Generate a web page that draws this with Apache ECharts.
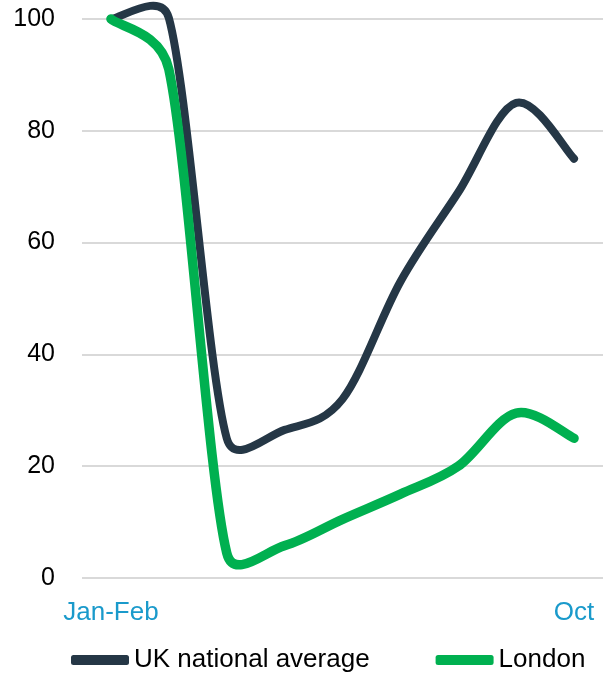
<!DOCTYPE html>
<html><head><meta charset="utf-8">
<script src="https://cdn.jsdelivr.net/npm/echarts@6/dist/echarts.min.js"></script>
<style>html,body{margin:0;padding:0;background:#fff}#c{width:603px;height:673px}</style>
</head><body><div id="c"></div>
<script>
const categories = ['Jan-Feb','Mar','Apr','May','Jun','Jul','Aug','Sep','Oct'];
const ukNational = [100, 100.2, 25, 26.5, 32, 53, 69, 85, 75];
const london = [100, 91, 4.5, 5.8, 10.5, 15, 20, 29.5, 25];
const yTicks = [0, 20, 40, 60, 80, 100];

const UK_COLOR = '#253746';
const LDN_COLOR = '#00b050';

// Excel-like smoothed line: Catmull-Rom bezier (tension 1/6), handle length limited to half segment
function smoothPath(pts) {
  const n = pts.length;
  const f = 1 / 6;
  let d = 'M' + pts[0][0] + ' ' + pts[0][1];
  const dist = (a, b) => Math.hypot(b[0] - a[0], b[1] - a[1]);
  for (let i = 0; i < n - 1; i++) {
    const p0 = pts[Math.max(0, i - 1)], p1 = pts[i], p2 = pts[i + 1], p3 = pts[Math.min(n - 1, i + 2)];
    const seg = dist(p1, p2);
    let v1 = [(p2[0] - p0[0]) * f, (p2[1] - p0[1]) * f];
    let l1 = Math.hypot(v1[0], v1[1]);
    if (l1 > seg / 2 && l1 > 0) { v1 = [v1[0] * seg / 2 / l1, v1[1] * seg / 2 / l1]; }
    let v2 = [(p3[0] - p1[0]) * f, (p3[1] - p1[1]) * f];
    let l2 = Math.hypot(v2[0], v2[1]);
    if (l2 > seg / 2 && l2 > 0) { v2 = [v2[0] * seg / 2 / l2, v2[1] * seg / 2 / l2]; }
    const c1 = [p1[0] + v1[0], p1[1] + v1[1]];
    const c2 = [p2[0] - v2[0], p2[1] - v2[1]];
    d += ' C' + c1[0] + ' ' + c1[1] + ' ' + c2[0] + ' ' + c2[1] + ' ' + p2[0] + ' ' + p2[1];
  }
  return d;
}

function makeSeries(name, values, color, width) {
  return {
    name: name, type: 'custom', clip: false,
    itemStyle: {color: color},
    encode: {x: 0, y: 1},
    data: values.map((v, i) => [i, v]),
    renderItem: function (params, api) {
      if (params.dataIndex !== 0) return null;
      const pts = values.map((v, i) => api.coord([i, v]));
      return {
        type: 'path',
        shape: {pathData: smoothPath(pts)},
        style: {fill: 'none', stroke: color, lineWidth: width, lineCap: 'round', lineJoin: 'round'}
      };
    }
  };
}

const FONT = 'Liberation Sans, Arial, sans-serif';
const chart = echarts.init(document.getElementById('c'));
chart.setOption({
  animation: false,
  grid: {left: 82, right: 0, top: 19, bottom: 95, containLabel: false},
  legend: {
    left: 71, top: 647, itemWidth: 58, itemHeight: 10, itemGap: 66,
    icon: 'roundRect', padding: 0,
    textStyle: {fontFamily: FONT, fontSize: 26, color: '#000'},
    data: ['UK national average', 'London']
  },
  xAxis: {
    type: 'category', data: categories, boundaryGap: true,
    axisLine: {show: false}, axisTick: {show: false},
    axisLabel: {
      interval: (i) => i === 0 || i === categories.length - 1,
      color: '#1a9acb', fontFamily: FONT, fontSize: 26, margin: 22
    }
  },
  yAxis: {
    type: 'value', min: yTicks[0], max: yTicks[yTicks.length - 1], interval: 20,
    axisLine: {show: false}, axisTick: {show: false},
    axisLabel: {color: '#000', fontFamily: FONT, fontSize: 25, margin: 27},
    splitLine: {lineStyle: {color: '#d9d9d9', width: 2}}
  },
  series: [
    makeSeries('UK national average', ukNational, UK_COLOR, 8),
    makeSeries('London', london, LDN_COLOR, 9.5)
  ]
});
</script></body></html>
